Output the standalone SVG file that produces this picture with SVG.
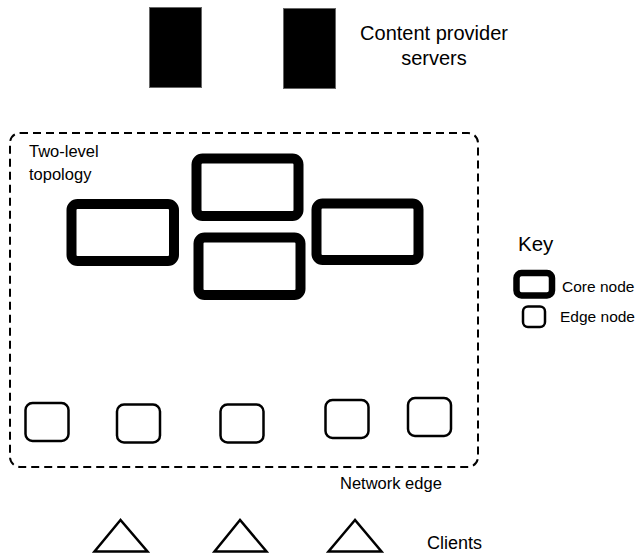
<svg xmlns="http://www.w3.org/2000/svg" width="643" height="559" viewBox="0 0 643 559">
  <style>
    text { font-family: "Liberation Sans", Arial, sans-serif; fill: #000; }
    .server { fill: #000; stroke: #666; stroke-width: 1; }
    .core { fill: #fff; stroke: #000; stroke-width: 10; }
    .edge { fill: #fff; stroke: #000; stroke-width: 2.5; }
    .client { fill: #fff; stroke: #000; stroke-width: 2.5; stroke-linejoin: miter; }
    .boundary { fill: none; stroke: #000; stroke-width: 2; stroke-dasharray: 8 5; }
  </style>

  <!-- Content provider servers -->
  <g id="server-1"><rect class="server" x="149.5" y="7.5" width="52" height="80"/></g>
  <g id="server-2"><rect class="server" x="283.5" y="8.5" width="52" height="80"/></g>
  <g id="servers-label">
    <text x="434" y="40" font-size="20" text-anchor="middle">Content provider</text>
    <text x="434" y="65" font-size="20" text-anchor="middle">servers</text>
  </g>

  <!-- Network boundary -->
  <g id="network">
    <rect class="boundary" x="10" y="133" width="468" height="334" rx="10"/>
    <text x="29" y="157" font-size="16.5">Two-level</text>
    <text x="29" y="180" font-size="16.5">topology</text>
    <text x="340" y="489" font-size="16.5">Network edge</text>
  </g>

  <!-- Core nodes -->
  <g id="core-left"><rect class="core" x="71.5" y="204" width="102.5" height="57" rx="6"/></g>
  <g id="core-top"><rect class="core" x="196.5" y="158.5" width="102" height="57.5" rx="6"/></g>
  <g id="core-bottom"><rect class="core" x="198.5" y="237.5" width="102" height="57.5" rx="6"/></g>
  <g id="core-right"><rect class="core" x="316.5" y="203.5" width="102" height="56.5" rx="6"/></g>

  <!-- Edge nodes -->
  <g id="edge-1"><rect class="edge" x="25.5" y="403" width="43" height="38" rx="7"/></g>
  <g id="edge-2"><rect class="edge" x="117" y="404.5" width="43" height="38" rx="7"/></g>
  <g id="edge-3"><rect class="edge" x="220.5" y="404.5" width="43" height="38" rx="7"/></g>
  <g id="edge-4"><rect class="edge" x="325.5" y="400" width="43" height="38" rx="7"/></g>
  <g id="edge-5"><rect class="edge" x="408" y="398" width="43" height="38" rx="7"/></g>

  <!-- Clients -->
  <g id="client-1"><polygon class="client" points="120.5,520 94.5,551.5 147.5,551.5"/></g>
  <g id="client-2"><polygon class="client" points="240,520 214.5,551.5 266.5,551.5"/></g>
  <g id="client-3"><polygon class="client" points="355,520 328.5,551.5 381.5,551.5"/></g>
  <g id="clients-label"><text x="427" y="549" font-size="18">Clients</text></g>

  <!-- Key -->
  <g id="key">
    <text x="518" y="251" font-size="20.5">Key</text>
    <rect x="516.5" y="273" width="35.5" height="22.5" rx="5" fill="#fff" stroke="#000" stroke-width="6.5"/>
    <text x="562" y="291.5" font-size="15.5">Core node</text>
    <rect x="523" y="306.5" width="22" height="20.5" rx="5" fill="#fff" stroke="#000" stroke-width="2.5"/>
    <text x="560" y="322" font-size="15.5">Edge node</text>
  </g>

  <!-- no connectors in this figure -->
  <g id="connectors"/>
</svg>
